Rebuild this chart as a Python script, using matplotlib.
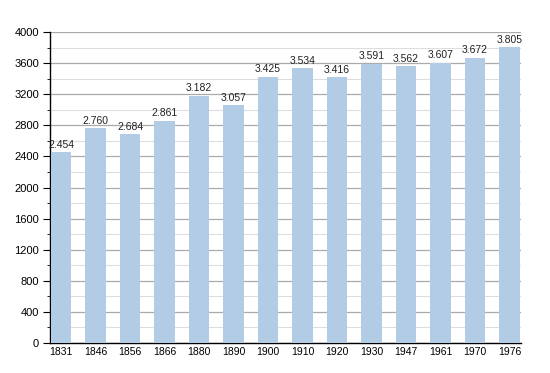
import matplotlib
matplotlib.use("Agg")
import matplotlib.pyplot as plt
from matplotlib.ticker import MultipleLocator

years = ["1831", "1846", "1856", "1866", "1880", "1890", "1900", "1910", "1920", "1930", "1947", "1961", "1970", "1976"]
population = [2454, 2760, 2684, 2861, 3182, 3057, 3425, 3534, 3416, 3591, 3562, 3607, 3672, 3805]
labels = ["2.454", "2.760", "2.684", "2.861", "3.182", "3.057", "3.425", "3.534", "3.416", "3.591", "3.562", "3.607", "3.672", "3.805"]

plt.rcParams['font.family'] = ['Liberation Sans', 'DejaVu Sans']

fig = plt.figure(figsize=(5.5, 3.73), dpi=100)
ax = fig.add_axes([50/550, 30/373, 471/550, 311/373])

x = list(range(len(years)))
w = 0.6
bars = ax.bar(x, population, width=w, color='#b3cce5', zorder=3)
for xi, v, lab in zip(x, population, labels):
    ax.text(xi, v + 30, lab, ha='center', va='bottom', fontsize=7.5, color='#222222', zorder=4)

ax.set_xlim(-0.5 + (1 - w) / 2 - 0.02, len(years) - 0.5 - (1 - w) / 2 + 0.03)
ax.set_ylim(0, 4000)
ax.yaxis.set_major_locator(MultipleLocator(400))
ax.yaxis.set_minor_locator(MultipleLocator(200))
ax.grid(which='major', axis='y', color='#aaaaaa', linewidth=0.9, zorder=1)
ax.grid(which='minor', axis='y', color='#dddddd', linewidth=0.8, zorder=1)
ax.set_xticks(x)
ax.set_xticklabels(years)
ax.tick_params(axis='x', length=0, labelsize=7.5, pad=3)
ax.tick_params(axis='y', which='major', length=5, labelsize=8, direction='out', pad=3)
ax.tick_params(axis='y', which='minor', length=2.5, direction='out')
for s in ['top', 'right']:
    ax.spines[s].set_visible(False)
ax.spines['left'].set_color('black')
ax.spines['bottom'].set_color('black')
ax.spines['left'].set_linewidth(1)
ax.spines['bottom'].set_linewidth(1)

fig.savefig('out.png', dpi=100)
